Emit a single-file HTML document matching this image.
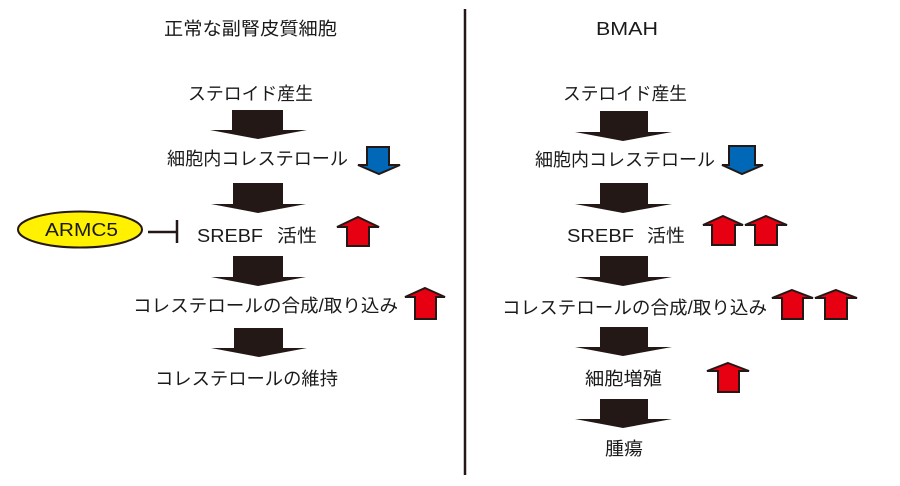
<!DOCTYPE html>
<html>
<head>
<meta charset="utf-8">
<style>
  html,body{margin:0;padding:0;background:#fff;}
  svg{display:block;}
  text{font-family:"Liberation Sans","Noto Sans CJK JP",sans-serif;fill:#1a1a1a;font-size:18px;}
</style>
</head>
<body>
<svg width="900" height="486" viewBox="0 0 900 486" xmlns="http://www.w3.org/2000/svg">
  <rect width="900" height="486" fill="#fff"/>

  <!-- divider -->
  <line x1="465" y1="9" x2="465" y2="475" stroke="#231815" stroke-width="2.5"/>

  <!-- titles -->
  <text x="164" y="35" textLength="173" lengthAdjust="spacingAndGlyphs" font-size="19">正常な副腎皮質細胞</text>
  <text x="596" y="35" textLength="62" lengthAdjust="spacingAndGlyphs" font-size="18">BMAH</text>

  <!-- LEFT column labels -->
  <text x="188" y="100" textLength="125" lengthAdjust="spacingAndGlyphs">ステロイド産生</text>
  <text x="167" y="165" textLength="181" lengthAdjust="spacingAndGlyphs">細胞内コレステロール</text>
  <text x="197" y="242" textLength="66" lengthAdjust="spacingAndGlyphs">SREBF</text>
  <text x="277" y="242" textLength="40" lengthAdjust="spacingAndGlyphs">活性</text>
  <text x="133" y="312" textLength="265" lengthAdjust="spacingAndGlyphs">コレステロールの合成/取り込み</text>
  <text x="155" y="385" textLength="183" lengthAdjust="spacingAndGlyphs">コレステロールの維持</text>

  <!-- RIGHT column labels -->
  <text x="563" y="100" textLength="124" lengthAdjust="spacingAndGlyphs">ステロイド産生</text>
  <text x="535" y="166" textLength="180" lengthAdjust="spacingAndGlyphs">細胞内コレステロール</text>
  <text x="567" y="242" textLength="67" lengthAdjust="spacingAndGlyphs">SREBF</text>
  <text x="647" y="242" textLength="38" lengthAdjust="spacingAndGlyphs">活性</text>
  <text x="502" y="314" textLength="265" lengthAdjust="spacingAndGlyphs">コレステロールの合成/取り込み</text>
  <text x="585" y="385" textLength="77" lengthAdjust="spacingAndGlyphs">細胞増殖</text>
  <text x="605" y="455" textLength="38" lengthAdjust="spacingAndGlyphs">腫瘍</text>

  <!-- black down arrows LEFT -->
  <g fill="#231815">
    <polygon points="232,110 283,110 283,130 307,130 258,139 210,130 232,130"/>
    <polygon points="233,183 283,183 283,204 306,204 258,213 211,204 233,204"/>
    <polygon points="233,256 283,256 283,277 306,277 258,286 211,277 233,277"/>
    <polygon points="234,328 283,328 283,348 307,348 259,357 211,348 234,348"/>
  </g>

  <!-- black down arrows RIGHT -->
  <g fill="#231815">
    <polygon points="600,111 648,111 648,132 672,132 623,141 575,132 600,132"/>
    <polygon points="600,183 648,183 648,204 672,204 623,213 575,204 600,204"/>
    <polygon points="600,256 648,256 648,277 672,277 623,286 575,277 600,277"/>
    <polygon points="600,327 648,327 648,347 672,347 623,356 575,347 600,347"/>
    <polygon points="600,399 648,399 648,419 672,419 623,428 575,419 600,419"/>
  </g>

  <!-- blue down arrows -->
  <g fill="#0068b7" stroke="#231815" stroke-width="2" stroke-linejoin="miter">
    <polygon points="367,147 389,147 389,165 400,165 379,174 358,165 367,165"/>
    <polygon points="729,146 755,146 755,165 763,165 742,174 722,165 729,165"/>
  </g>

  <!-- red up arrows -->
  <g fill="#e60012" stroke="#231815" stroke-width="2" stroke-linejoin="miter">
    <polygon points="358,217 379,227 369,227 369,246 347,246 347,227 337,227"/>
    <polygon points="425,288 445,297 436,297 436,319 415,319 415,297 405,297"/>
    <polygon points="723,216 743,225 735,225 735,245 712,245 712,225 703,225"/>
    <polygon points="766,216 787,225 777,225 777,245 755,245 755,225 745,225"/>
    <polygon points="792,290 813,298 803,298 803,319 782,319 782,298 772,298"/>
    <polygon points="836,290 857,298 847,298 847,319 825,319 825,298 815,298"/>
    <polygon points="728,363 749,371 739,371 739,392 718,392 718,371 707,371"/>
  </g>

  <!-- ARMC5 -->
  <ellipse cx="80" cy="229.5" rx="62" ry="18" fill="#fff100" stroke="#231815" stroke-width="2"/>
  <text x="45" y="236" textLength="73" lengthAdjust="spacingAndGlyphs" font-size="18">ARMC5</text>
  <line x1="148" y1="232" x2="177" y2="232" stroke="#231815" stroke-width="2.5"/>
  <line x1="177" y1="220" x2="177" y2="243" stroke="#231815" stroke-width="2.5"/>
</svg>
</body>
</html>
